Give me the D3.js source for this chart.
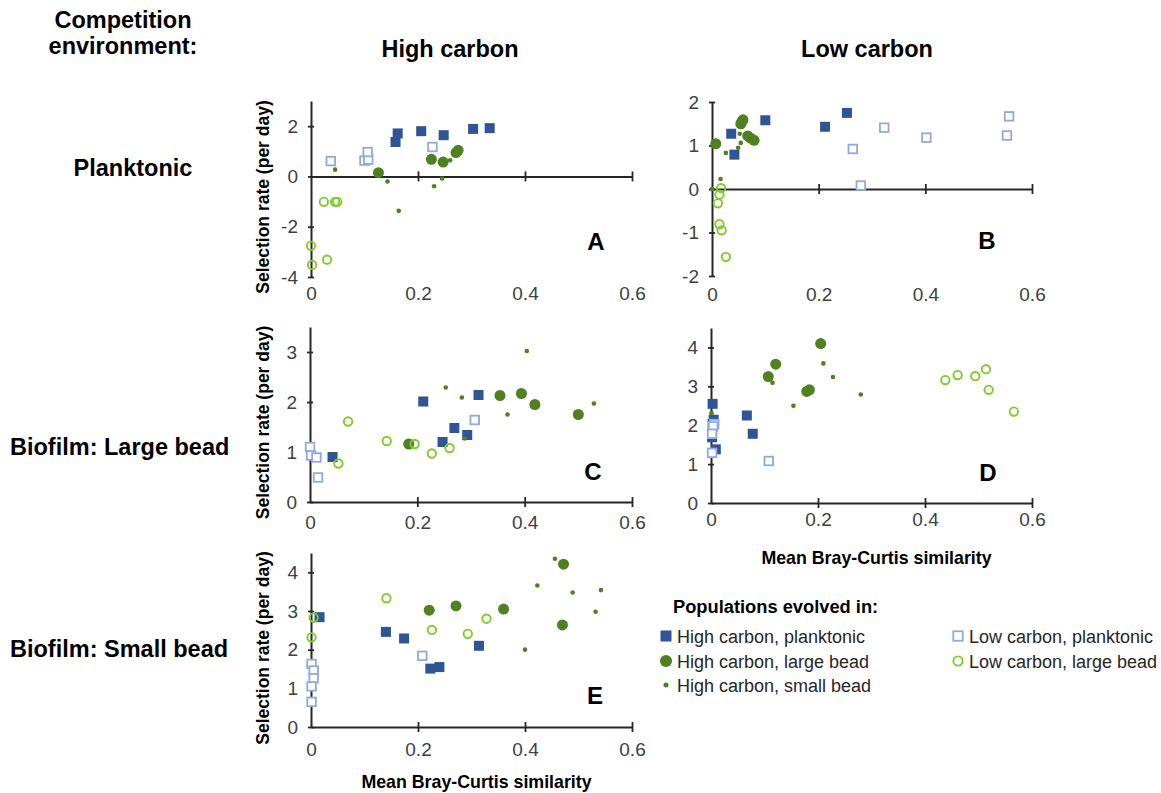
<!DOCTYPE html>
<html><head><meta charset="utf-8">
<script src="https://cdn.jsdelivr.net/npm/d3@7"></script>
<style>body{margin:0;background:#fff;} svg{display:block;font-family:"Liberation Sans",Arial,sans-serif;}</style>
</head><body>
<svg id="c" width="1161" height="793"></svg>
<script>
// ---------------- DATA ----------------
const xTickValues = [0, 0.2, 0.4, 0.6];
const xTickLabels = ["0", "0.2", "0.4", "0.6"];
const seriesNames = ["High carbon, planktonic", "Low carbon, planktonic", "High carbon, large bead", "Low carbon, large bead", "High carbon, small bead"];
const rowLabels = ["Planktonic", "Biofilm: Large bead", "Biofilm: Small bead"];
const colLabels = ["High carbon", "Low carbon"];
const panelLetters = ["A", "B", "C", "D", "E"];
const yTicksA = [-4, -2, 0, 2];
const yTicksB = [-2, -1, 0, 1, 2];
const yTicksC = [0, 1, 2, 3];
const yTicksD = [0, 1, 2, 3, 4];
const yTicksE = [0, 1, 2, 3, 4];

// Panel A (planktonic, high carbon)
const aHighPlank = [[0.158,1.37],[0.162,1.71],[0.206,1.80],[0.248,1.64],[0.303,1.89],[0.334,1.92]];
const aLowPlank  = [[0.037,0.61],[0.100,0.63],[0.107,0.67],[0.106,0.97],[0.227,1.17]];
const aHighLarge = [[0.126,0.15],[0.225,0.68],[0.247,0.57],[0.271,0.95],[0.275,1.04]];
const aLowLarge  = [[0.024,-1.01],[0.045,-1.01],[0.049,-1.01],[0.000,-2.76],[0.002,-3.52],[0.030,-3.31]];
const aHighSmall = [[0.045,0.27],[0.143,-0.20],[0.164,-1.37],[0.230,-0.39],[0.245,-0.08],[0.260,0.64]];
// Panel B (planktonic, low carbon)
const bHighPlank = [[0.036,1.27],[0.042,0.79],[0.100,1.58],[0.212,1.43],[0.253,1.75]];
const bLowPlank  = [[0.264,0.92],[0.279,0.08],[0.323,1.41],[0.402,1.18],[0.553,1.23],[0.557,1.67]];
const bHighLarge = [[0.007,1.04],[0.054,1.50],[0.056,1.54],[0.058,1.59],[0.067,1.22],[0.072,1.17],[0.079,1.12]];
const bLowLarge  = [[0.017,0.02],[0.014,-0.13],[0.011,-0.33],[0.014,-0.81],[0.018,-0.95],[0.026,-1.56]];
const bHighSmall = [[0.026,0.83],[0.052,1.27],[0.054,1.06],[0.049,0.95],[0.016,0.23],[0.000,0.00]];
// Panel C (large bead, high carbon)
const cHighPlank = [[0.042,0.90],[0.211,2.01],[0.247,1.20],[0.269,1.48],[0.293,1.34],[0.314,2.14]];
const cLowPlank  = [[0.000,1.10],[0.002,0.93],[0.012,0.89],[0.015,0.49],[0.307,1.64]];
const cHighLarge = [[0.184,1.16],[0.354,2.13],[0.394,2.17],[0.419,1.95],[0.500,1.75]];
const cLowLarge  = [[0.053,0.77],[0.071,1.61],[0.143,1.22],[0.195,1.16],[0.227,0.97],[0.260,1.08]];
const cHighSmall = [[0.253,2.29],[0.283,2.09],[0.288,1.27],[0.368,1.75],[0.404,3.02],[0.529,1.97]];
// Panel D (large bead, low carbon)
const dHighPlank = [[0.003,2.55],[0.005,2.14],[0.003,2.03],[0.002,1.69],[0.009,1.38],[0.067,2.25],[0.078,1.78]];
const dLowPlank  = [[0.002,1.29],[0.006,2.03],[0.004,1.97],[0.002,1.78],[0.108,1.08]];
const dHighLarge = [[0.107,3.25],[0.121,3.57],[0.179,2.87],[0.184,2.91],[0.205,4.10]];
const dLowLarge  = [[0.438,3.16],[0.461,3.29],[0.494,3.26],[0.514,3.44],[0.519,2.91],[0.566,2.35]];
const dHighSmall = [[0.001,2.31],[0.115,3.09],[0.154,2.50],[0.210,3.59],[0.228,3.24],[0.280,2.79]];
// Panel E (small bead, high carbon)
const eHighPlank = [[0.016,2.84],[0.140,2.46],[0.174,2.29],[0.223,1.51],[0.240,1.55],[0.314,2.10]];
const eLowPlank  = [[0.001,1.63],[0.005,1.46],[0.005,1.26],[0.001,1.05],[0.001,0.65],[0.208,1.84]];
const eHighLarge = [[0.221,3.02],[0.271,3.13],[0.360,3.05],[0.470,2.64],[0.472,4.21]];
const eLowLarge  = [[0.001,2.32],[0.005,2.83],[0.141,3.33],[0.226,2.51],[0.293,2.41],[0.328,2.80]];
const eHighSmall = [[0.400,2.00],[0.423,3.66],[0.456,4.35],[0.489,3.48],[0.532,2.98],[0.542,3.54]];

// ---------------- STYLE ----------------
const C_DBLUE = "#2F5597", C_LBLUE = "#8FAADC", C_DGREEN = "#4F8120", C_LGREEN = "#7DCC27";
const AXIS = "#262626", TICKTXT = "#404040";
const TICKFS = 19;

const svg = d3.select("#c");

function drawMarker(g, type, cx, cy, big) {
  const s = big ? 1.1 : 1;
  if (type === 0) g.append("rect").attr("x", cx - 5*s).attr("y", cy - 5*s).attr("width", 10*s).attr("height", 10*s).attr("fill", C_DBLUE);
  else if (type === 1) g.append("rect").attr("x", cx - 4.3*s).attr("y", cy - 4.3*s).attr("width", 8.6*s).attr("height", 8.6*s).attr("fill", "#fff").attr("stroke", C_LBLUE).attr("stroke-width", 1.8);
  else if (type === 2) g.append("circle").attr("cx", cx).attr("cy", cy).attr("r", 5.5*s).attr("fill", C_DGREEN);
  else if (type === 3) g.append("circle").attr("cx", cx).attr("cy", cy).attr("r", 4.2*s).attr("fill", "none").attr("stroke", C_LGREEN).attr("stroke-width", 1.9);
  else g.append("circle").attr("cx", cx).attr("cy", cy).attr("r", 2.3*s).attr("fill", C_DGREEN);
}

const panels = [
  {letter: panelLetters[0], xr: [311, 632], yd: [-4, 3], yr: [277, 101], yt: yTicksA, lab: 304, lp: [596, 250],
   series: [aHighPlank, aLowPlank, aHighLarge, aLowLarge, aHighSmall], ytitle: true},
  {letter: panelLetters[1], xr: [712, 1032], yd: [-2, 2], yr: [276, 102], yt: yTicksB, lab: 305, lp: [987, 249],
   series: [bHighPlank, bLowPlank, bHighLarge, bLowLarge, bHighSmall]},
  {letter: panelLetters[2], xr: [310, 632], yd: [0, 3.5], yr: [502, 327], yt: yTicksC, lab: 533, lp: [593, 480],
   series: [cHighPlank, cLowPlank, cHighLarge, cLowLarge, cHighSmall], ytitle: true},
  {letter: panelLetters[3], xr: [711, 1032], yd: [0, 4.5], yr: [503, 328], yt: yTicksD, lab: 530, lp: [988, 481],
   series: [dHighPlank, dLowPlank, dHighLarge, dLowLarge, dHighSmall], xtitle: 564},
  {letter: panelLetters[4], xr: [311, 632], yd: [0, 4.5], yr: [727, 553], yt: yTicksE, lab: 760, lp: [595, 704],
   series: [eHighPlank, eLowPlank, eHighLarge, eLowLarge, eHighSmall], xtitle: 788, ytitle: true}
];

panels.forEach(p => {
  const x = d3.scaleLinear().domain([0, 0.6]).range(p.xr);
  const y = d3.scaleLinear().domain(p.yd).range(p.yr);
  const g = svg.append("g");

  // y axis
  const ya = g.append("g").attr("transform", `translate(${x(0)},0)`)
    .call(d3.axisLeft(y).tickValues(p.yt).tickSize(0).tickPadding(13).tickFormat(d => String(d)));
  ya.select(".domain").attr("stroke", AXIS).attr("stroke-width", 2);
  ya.selectAll(".tick text").attr("font-size", TICKFS).attr("fill", TICKTXT).attr("font-family", "Liberation Sans, Arial, sans-serif");
  ya.selectAll(".tick").append("line").attr("x1", -3).attr("x2", 3).attr("stroke", AXIS).attr("stroke-width", 1.8);

  // x axis line at y = 0
  const xa = g.append("g").attr("transform", `translate(0,${y(0)})`)
    .call(d3.axisBottom(x).tickValues(xTickValues.slice(1)).tickSize(0).tickFormat(""));
  xa.select(".domain").attr("stroke", AXIS).attr("stroke-width", 2);
  xa.selectAll(".tick").append("line").attr("y1", -5).attr("y2", 5).attr("stroke", AXIS).attr("stroke-width", 1.8);

  // x tick labels
  const xl = g.append("g").attr("transform", `translate(0,${p.lab - 18})`)
    .call(d3.axisBottom(x).tickValues(xTickValues).tickSize(0).tickPadding(0).tickFormat((d, i) => xTickLabels[i]));
  xl.select(".domain").remove();
  xl.selectAll(".tick text").attr("font-size", TICKFS).attr("fill", TICKTXT).attr("dy", "0.71em").attr("font-family", "Liberation Sans, Arial, sans-serif");

  // markers
  [0, 1, 2, 3, 4].forEach(k => {
    p.series[k].forEach(d => drawMarker(g, k, x(d[0]), y(d[1]), false));
  });

  // letter
  g.append("text").attr("x", p.lp[0]).attr("y", p.lp[1]).attr("text-anchor", "middle")
    .attr("font-size", 24).attr("font-weight", "bold").attr("fill", "#000").text(p.letter);

  if (p.ytitle) {
    const cy = (p.yr[0] + p.yr[1]) / 2 + 8;
    g.append("text").attr("transform", `translate(269,${cy}) rotate(-90)`).attr("text-anchor", "middle")
      .attr("font-size", 17.5).attr("font-weight", "bold").attr("fill", "#000").text("Selection rate (per day)");
  }
  if (p.xtitle) {
    g.append("text").attr("x", (p.xr[0] + p.xr[1]) / 2 + 5).attr("y", p.xtitle).attr("text-anchor", "middle")
      .attr("font-size", 17.8).attr("font-weight", "bold").attr("fill", "#000").text("Mean Bray-Curtis similarity");
  }
});

// headings
const head = svg.append("g").attr("font-weight", "bold").attr("fill", "#000").attr("font-size", 23.5);
head.append("text").attr("x", 123).attr("y", 28).attr("text-anchor", "middle").text("Competition");
head.append("text").attr("x", 123).attr("y", 54).attr("text-anchor", "middle").text("environment:");
head.append("text").attr("x", 450).attr("y", 57).attr("text-anchor", "middle").text(colLabels[0]);
head.append("text").attr("x", 867).attr("y", 57).attr("text-anchor", "middle").text(colLabels[1]);
head.append("text").attr("x", 133).attr("y", 176).attr("text-anchor", "middle").text(rowLabels[0]);
head.append("text").attr("x", 10).attr("y", 455).text(rowLabels[1]);
head.append("text").attr("x", 10).attr("y", 657).text(rowLabels[2]);

// legend
const lg = svg.append("g");
lg.append("text").attr("x", 673).attr("y", 613).attr("font-size", 18.3).attr("font-weight", "bold").text("Populations evolved in:");
const legPos = [[666, 636], [958, 636], [666, 661], [958, 661], [666, 685]];
seriesNames.forEach((n, i) => {
  drawMarker(lg, i, legPos[i][0], legPos[i][1], true);
  lg.append("text").attr("x", legPos[i][0] + 11).attr("y", legPos[i][1] + 6.5).attr("font-size", 18)
    .attr("fill", "#262626").text(n);
});
</script>
</body></html>
